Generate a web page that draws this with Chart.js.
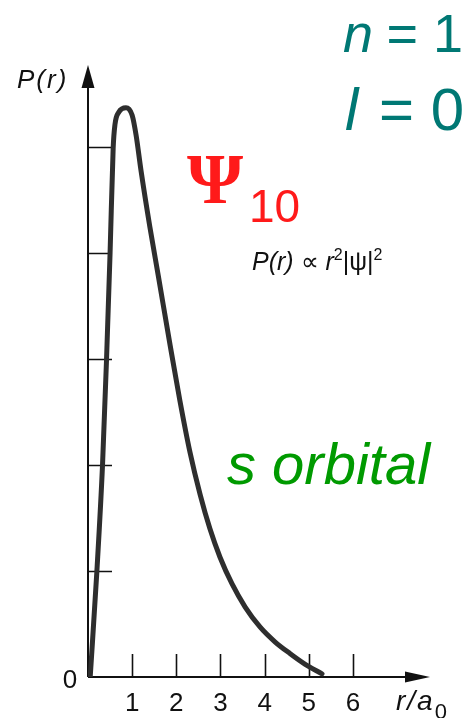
<!DOCTYPE html>
<html>
<head>
<meta charset="utf-8">
<title>Radial probability – 1s orbital</title>
<script src="https://cdn.jsdelivr.net/npm/chart.js@4.4.1/dist/chart.umd.min.js"></script>
<style>
  html, body { margin: 0; padding: 0; background: #ffffff; }
  #wrap { position: relative; width: 469px; height: 718px; }
  canvas { display: block; }
</style>
</head>
<body>
<div id="wrap"><canvas id="chart" width="469" height="718"></canvas></div>
<script>
// Radius in units of the Bohr radius a0
const rValues = [0.05, 0.20, 0.33, 0.42, 0.50, 0.57, 0.61, 0.70, 0.86, 1.00, 1.09, 1.20,
                 1.40, 1.59, 1.86, 2.08, 2.31, 2.54, 2.76, 2.99, 3.26, 3.56, 3.90, 4.24,
                 4.58, 4.92, 5.30];
// Radial probability P(r), in tick units on the vertical axis
const pValues = [0.00, 0.99, 2.01, 3.00, 4.00, 4.99, 5.21, 5.33, 5.37, 5.30, 5.11, 4.78,
                 4.25, 3.79, 3.13, 2.61, 2.12, 1.72, 1.40, 1.13, 0.88, 0.66, 0.47, 0.33,
                 0.22, 0.12, 0.03];

const xTicks = [1, 2, 3, 4, 5, 6];
const xTickLabels = ['1', '2', '3', '4', '5', '6'];
const yTicks = [1, 2, 3, 4, 5];

const SANS = '"Liberation Sans", Arial, Helvetica, sans-serif';
const SERIF = '"Liberation Serif", "Times New Roman", serif';

// Axes with arrowheads, inward tick marks, and the annotation text
const axesPlugin = {
  id: 'arrowAxes',
  beforeDatasetsDraw(chart) {
    const ctx = chart.ctx;
    const xs = chart.scales.x, ys = chart.scales.y;
    const x0 = xs.getPixelForValue(0), y0 = ys.getPixelForValue(0);
    const xEnd = xs.getPixelForValue(xs.max), yEnd = ys.getPixelForValue(ys.max);
    ctx.save();
    ctx.strokeStyle = '#111';
    ctx.fillStyle = '#111';
    // axis lines
    ctx.lineWidth = 2;
    ctx.beginPath();
    ctx.moveTo(x0, y0); ctx.lineTo(x0, yEnd + 18);
    ctx.moveTo(x0, y0); ctx.lineTo(xEnd - 20, y0);
    ctx.stroke();
    // arrowheads
    ctx.beginPath();
    ctx.moveTo(x0, yEnd); ctx.lineTo(x0 - 6.5, yEnd + 23); ctx.lineTo(x0 + 6.5, yEnd + 23); ctx.closePath();
    ctx.fill();
    ctx.beginPath();
    ctx.moveTo(xEnd, y0); ctx.lineTo(xEnd - 25, y0 - 5.5); ctx.lineTo(xEnd - 25, y0 + 5.5); ctx.closePath();
    ctx.fill();
    // tick marks pointing into the plot
    ctx.lineWidth = 1.6;
    ctx.beginPath();
    xTicks.forEach(v => {
      const px = Math.round(xs.getPixelForValue(v)) + 0.5;
      ctx.moveTo(px, y0); ctx.lineTo(px, y0 - 23);
    });
    yTicks.forEach(v => {
      const py = Math.round(ys.getPixelForValue(v)) + 0.5;
      ctx.moveTo(x0, py); ctx.lineTo(x0 + 24, py);
    });
    ctx.stroke();

    // tick labels
    ctx.font = '26px ' + SANS;
    ctx.textAlign = 'center';
    ctx.textBaseline = 'alphabetic';
    xTicks.forEach((v, i) => ctx.fillText(xTickLabels[i], xs.getPixelForValue(v), 711));
    ctx.fillText('0', 70, 688);

    // axis titles
    ctx.textAlign = 'left';
    ctx.letterSpacing = '2px';
    ctx.font = 'italic 26px ' + SANS;
    ctx.fillText('P(r)', 17, 88);
    ctx.font = 'italic 28px ' + SANS;
    ctx.fillText('r/a', 396, 710);
    const raEnd = 396 + ctx.measureText('r/a').width - 2;
    ctx.letterSpacing = '0px';
    ctx.font = '22px ' + SANS;
    ctx.fillText('0', raEnd + 2, 719);

    // proportionality relation
    let x = 252;
    const base = 270;
    const part = (txt, font, dy) => {
      ctx.font = font;
      ctx.fillText(txt, x, base + (dy || 0));
      x += ctx.measureText(txt).width;
    };
    part('P(r) ', 'italic 25px ' + SANS);
    part('\u221D ', '25px ' + SANS);
    part('r', 'italic 25px ' + SANS);
    part('2', '16px ' + SANS, -10);
    part('|\u03C8|', '25px ' + SANS);
    part('2', '16px ' + SANS, -10);

    // quantum numbers
    ctx.fillStyle = '#007874';
    ctx.textAlign = 'right';
    ctx.font = '54px ' + SANS;
    ctx.fillText('= 1', 463, 52);
    ctx.font = '60px ' + SANS;
    ctx.fillText('= 0', 464, 130);
    ctx.textAlign = 'left';
    ctx.font = 'italic 54px ' + SANS;
    ctx.fillText('n', 343, 52);
    ctx.font = 'italic 60px ' + SANS;
    ctx.fillText('l', 345, 130);

    // wavefunction label
    ctx.fillStyle = '#ff1a1a';
    ctx.font = 'bold 72px ' + SERIF;
    ctx.fillText('\u03A8', 187, 203);
    ctx.font = '46px ' + SANS;
    ctx.fillText('10', 249, 222);

    // orbital name
    ctx.fillStyle = '#009a00';
    ctx.font = 'italic 58px ' + SANS;
    ctx.fillText('s orbital', 227, 484);
    ctx.restore();
  }
};

new Chart(document.getElementById('chart'), {
  type: 'line',
  data: {
    datasets: [{
      data: rValues.map((r, i) => ({ x: r, y: pValues[i] })),
      borderColor: '#2e2e2e',
      borderWidth: 5,
      pointRadius: 0,
      fill: false,
      cubicInterpolationMode: 'monotone',
      borderCapStyle: 'round',
      borderJoinStyle: 'round'
    }]
  },
  options: {
    responsive: false,
    animation: false,
    events: [],
    layout: { padding: { left: 88, right: 39, top: 65, bottom: 41 } },
    plugins: { legend: { display: false }, tooltip: { enabled: false } },
    scales: {
      x: { type: 'linear', min: 0, max: 7.746, display: false },
      y: { type: 'linear', min: 0, max: 5.774, display: false }
    }
  },
  plugins: [axesPlugin]
});
</script>
</body>
</html>
